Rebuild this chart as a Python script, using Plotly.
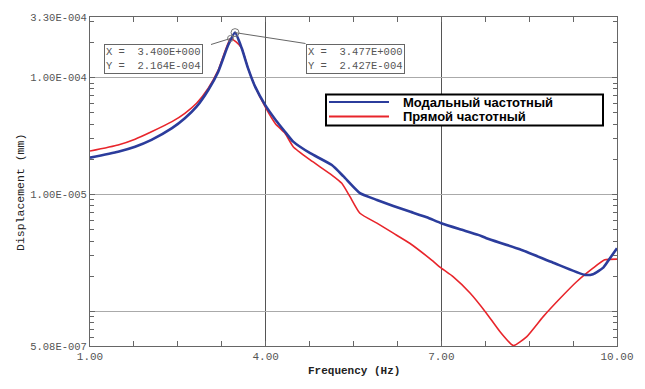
import math
import plotly.graph_objects as go

# ---------------- data ----------------
freq_modal = [1.00, 1.48, 1.77, 2.05, 2.40, 2.62, 2.82, 3.02, 3.19, 3.36, 3.477, 3.59, 3.70,
              3.82, 3.99, 4.17, 4.33, 4.47, 4.76, 5.13, 5.33, 5.61, 5.90, 6.18, 6.46, 6.75,
              7.00, 7.32, 7.63, 7.77, 8.34, 8.91, 9.45, 9.59, 9.77, 9.88, 10.0]
disp_modal = [2.07e-5, 2.33e-5, 2.57e-5, 2.94e-5, 3.70e-5, 4.50e-5, 5.65e-5, 7.85e-5, 1.125e-4,
              1.90e-4, 2.427e-4, 1.79e-4, 1.20e-4, 8.38e-5, 5.85e-5, 4.35e-5, 3.45e-5, 2.84e-5,
              2.26e-5, 1.79e-5, 1.43e-5, 1.03e-5, 9.01e-6, 8.00e-6, 7.16e-6, 6.41e-6, 5.70e-6,
              5.06e-6, 4.53e-6, 4.24e-6, 3.41e-6, 2.62e-6, 2.06e-6, 2.09e-6, 2.39e-6, 2.86e-6,
              3.48e-6]

freq_direct = [1.00, 1.48, 1.77, 2.05, 2.40, 2.62, 2.82, 3.02, 3.19, 3.40, 3.49, 3.59, 3.70,
               3.82, 3.99, 4.17, 4.33, 4.47, 4.76, 5.13, 5.30, 5.44, 5.61, 5.90, 6.18, 6.46,
               6.83, 7.00, 7.20, 7.49, 7.77, 8.00, 8.23, 8.46, 8.74, 9.03, 9.31, 9.59, 9.79, 10.0]
disp_direct = [2.36e-5, 2.66e-5, 2.98e-5, 3.45e-5, 4.21e-5, 4.96e-5, 6.04e-5, 8.12e-5, 1.16e-4,
               2.164e-4, 2.03e-4, 1.79e-4, 1.20e-4, 8.38e-5, 5.65e-5, 4.02e-5, 3.35e-5, 2.57e-5,
               1.98e-5, 1.47e-5, 1.25e-5, 9.61e-6, 6.93e-6, 5.70e-6, 4.68e-6, 3.84e-6, 2.77e-6,
               2.35e-6, 1.99e-6, 1.44e-6, 9.69e-7, 6.75e-7, 5.12e-7, 6.11e-7, 9.06e-7, 1.30e-6,
               1.80e-6, 2.35e-6, 2.77e-6, 2.81e-6]

series_names = ["Модальный частотный", "Прямой частотный"]

peak_direct = (3.400, 2.164e-4)
peak_modal = (3.477, 2.427e-4)

x_tickvals = [1, 4, 7, 10]
x_ticktext = ["1.00", "4.00", "7.00", "10.00"]
y_tickvals = [5.08e-7, 1e-6, 1e-5, 1e-4, 3.30e-4]
y_ticktext = ["5.08E-007", "", "1.00E-005", "1.00E-004", "3.30E-004"]
x_range = [1.0, 10.0]
y_min, y_max = 5.08e-7, 3.30e-4
x_title = "Frequency (Hz)"
y_title = "Displacement (mm)"

# ---------------- figure ----------------
BLUE = "#2b3c9c"
RED = "#e8252b"
MONO = "Liberation Mono"
NB = "\u00a0"

W, H = 645, 389
OFF = 8                      # page body margin
# plot area in page pixels
PL, PR, PT, PB = 90, 617, 17, 346
PW, PH = PR - PL, PB - PT
ML, MT = PL - OFF, PT - OFF
MR, MB = W - (PR - OFF), H - (PB - OFF)


def px2data(px, py):
    fx = (px - PL) / PW
    fy = 1 - (py - PT) / PH
    xd = x_range[0] + fx * (x_range[1] - x_range[0])
    ly0, ly1 = math.log10(y_min), math.log10(y_max)
    yd = 10 ** (ly0 + fy * (ly1 - ly0))
    return xd, yd


def px2paper(px, py):
    return (px - PL) / PW, 1 - (py - PT) / PH


fig = go.Figure()
fig.add_trace(go.Scatter(x=freq_direct, y=disp_direct, mode="lines",
                         line=dict(color=RED, width=1.6, shape="spline", smoothing=0.5),
                         name=series_names[1], showlegend=False))
fig.add_trace(go.Scatter(x=freq_modal, y=disp_modal, mode="lines",
                         line=dict(color=BLUE, width=2.6, shape="spline", smoothing=0.5),
                         name=series_names[0], showlegend=False))
# peak markers
fig.add_trace(go.Scatter(x=[peak_direct[0]], y=[peak_direct[1]], mode="markers",
                         marker=dict(symbol="circle-open", size=6, color="#777",
                                     line=dict(width=1)), showlegend=False))
fig.add_trace(go.Scatter(x=[peak_modal[0]], y=[peak_modal[1]], mode="markers",
                         marker=dict(symbol="circle-open", size=8, color="#777",
                                     line=dict(width=1)), showlegend=False))

# leader lines from the readout boxes to the peaks
bx1, by1 = px2data(211, 44.5)
bx2, by2 = px2data(305.5, 43.5)
fig.add_trace(go.Scatter(x=[bx1, peak_direct[0]], y=[by1, peak_direct[1]], mode="lines",
                         line=dict(color="#666", width=1), showlegend=False))
fig.add_trace(go.Scatter(x=[bx2, peak_modal[0]], y=[by2, peak_modal[1]], mode="lines",
                         line=dict(color="#666", width=1), showlegend=False))


def fmt(v):
    s = f"{v:.3E}"
    mant, exp = s.split("E")
    return f"{mant}E{exp[0]}{int(exp[1:]):03d}"


def readout(px, py, xv, yv):
    txt = f"X{NB}={NB}{NB}{fmt(xv)}<br>Y{NB}={NB}{NB}{fmt(yv)}"
    ax, ay = px2paper(px, py)
    fig.add_annotation(x=ax, y=ay, xref="paper", yref="paper", xanchor="left",
                       yanchor="top", text=txt, showarrow=False, align="left",
                       font=dict(family=MONO, size=10.5, color="#555"),
                       bordercolor="#666", borderwidth=1, borderpad=1,
                       bgcolor="white")


readout(104, 44, *peak_direct)
readout(305.5, 43.5, *peak_modal)

# legend (manual box)
lx0, ly0 = px2paper(326, 125.5)
lx1, ly1 = px2paper(603, 94.5)
fig.add_shape(type="rect", xref="paper", yref="paper", x0=lx0, y0=ly0, x1=lx1, y1=ly1,
              line=dict(color="black", width=2), fillcolor="white", layer="above")
for i, (name, col) in enumerate(zip(series_names, [BLUE, RED])):
    rowy = 102 + i * 14.5
    sx0, sy = px2paper(329, rowy)
    sx1, _ = px2paper(389, rowy)
    fig.add_shape(type="line", xref="paper", yref="paper", x0=sx0, x1=sx1, y0=sy, y1=sy,
                  line=dict(color=col, width=2.2), layer="above")
    tx, _ = px2paper(401, rowy)
    fig.add_annotation(x=tx, y=sy, xref="paper", yref="paper", xanchor="left",
                       yanchor="middle", text=f"<b>{name}</b>", showarrow=False,
                       font=dict(family="Liberation Sans", size=13, color="black"))

# axis titles
tx, ty = px2paper(354, 371)
fig.add_annotation(x=tx, y=ty, xref="paper", yref="paper", xanchor="center",
                   yanchor="middle", text=f"<b>{x_title}</b>", showarrow=False,
                   font=dict(family=MONO, size=11, color="#222"))
tx, ty = px2paper(20, 193)
fig.add_annotation(x=tx, y=ty, xref="paper", yref="paper", xanchor="center",
                   yanchor="middle", text=y_title, showarrow=False,
                   textangle=-90, font=dict(family=MONO, size=11.5, color="#222"))

minor_y = [k * 10.0 ** n for n in range(-7, -3) for k in range(2, 10)
           if y_min < k * 10.0 ** n < y_max]

fig.update_layout(
    width=W, height=H,
    margin=dict(l=ML, r=MR, t=MT, b=MB, autoexpand=False),
    paper_bgcolor="white", plot_bgcolor="white",
    showlegend=False,
    xaxis=dict(range=x_range, tickmode="array", tickvals=x_tickvals, ticktext=x_ticktext,
               ticks="inside", ticklen=5, tickcolor="#666", mirror="allticks",
               showline=True, linecolor="#666", linewidth=1,
               showgrid=True, gridcolor="#555", gridwidth=1, zeroline=False,
               tickfont=dict(family=MONO, size=11, color="#555"),
               minor=dict(tickmode="linear", tick0=1, dtick=0.75, ticks="inside",
                          ticklen=5, tickcolor="#666", showgrid=False)),
    yaxis=dict(type="log", range=[math.log10(y_min), math.log10(y_max)],
               tickmode="array", tickvals=y_tickvals, ticktext=y_ticktext,
               ticks="inside", ticklen=5, tickcolor="#666", mirror="allticks",
               showline=True, linecolor="#666", linewidth=1,
               showgrid=True, gridcolor="#aaa", gridwidth=1, zeroline=False,
               tickfont=dict(family=MONO, size=10.5, color="#555"),
               minor=dict(tickmode="array", tickvals=minor_y, ticks="inside",
                          ticklen=4, tickcolor="#666", showgrid=False)),
)

fig.write_html("out.html")
